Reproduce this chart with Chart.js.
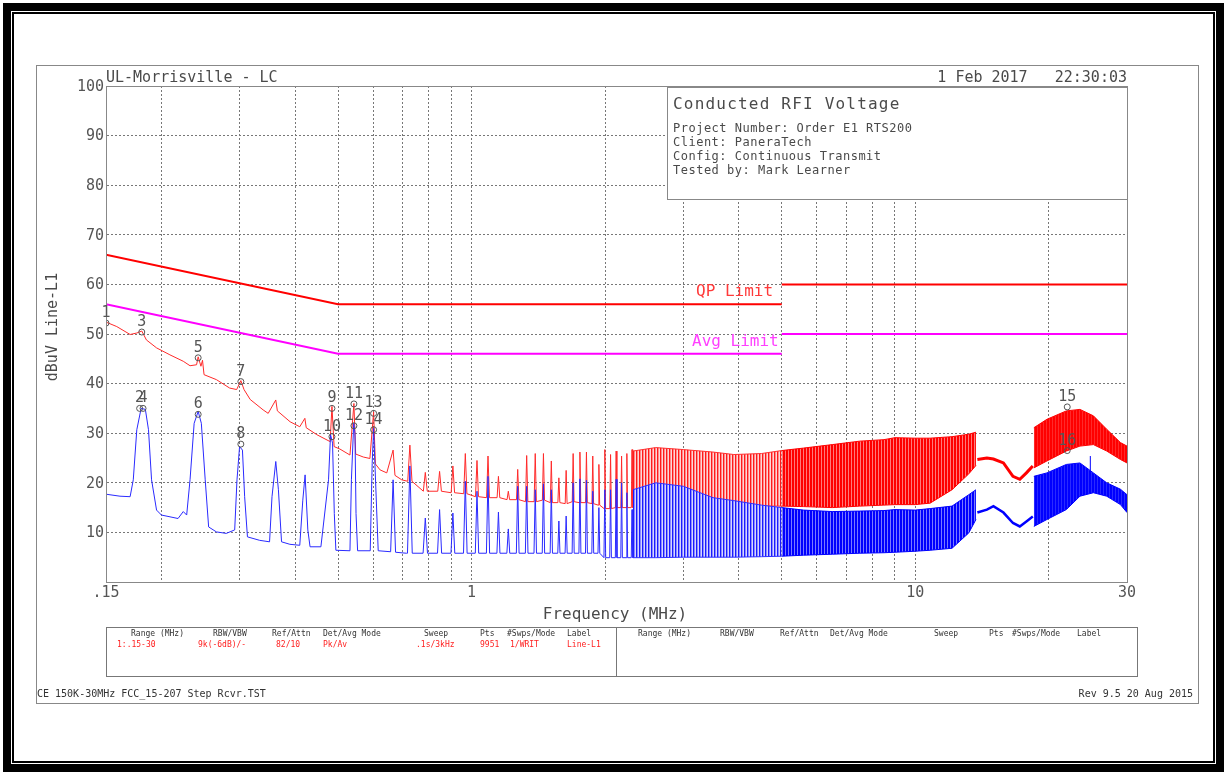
<!DOCTYPE html>
<html>
<head>
<meta charset="utf-8">
<title>Conducted RFI Voltage</title>
<script src="https://cdn.jsdelivr.net/npm/chart.js@4.4.1/dist/chart.umd.min.js"></script>
<style>
  html, body { margin: 0; padding: 0; background: #fff; }
  #page { position: relative; width: 1227px; height: 775px; overflow: hidden;
          font-family: 'DejaVu Sans Mono', monospace; color: #4a4a4a; }
  #plot { position: absolute; left: 0; top: 0; }
  .abs { position: absolute; white-space: pre; line-height: 1; }
  .box { position: absolute; box-sizing: border-box; }
</style>
</head>
<body>
<div id="page">
  <canvas id="plot" width="1227" height="775"></canvas>

  <div class="box" style="left:3px;top:3px;width:1221px;height:769px;border:8px solid #000"></div>
  <div class="box" style="left:12px;top:12px;width:1203px;height:751px;border:2px solid #000"></div>
  <div class="box" style="left:36px;top:65px;width:1163px;height:639px;border:1px solid #888"></div>

  <div class="abs" style="left:106px;top:70px;font-size:15px">UL-Morrisville - LC</div>
  <div class="abs" style="right:100px;top:70px;font-size:15px">1 Feb 2017   22:30:03</div>

  <div class="box" style="left:667px;top:87px;width:461px;height:113px;border:1px solid #888;background:#fff"></div>
  <div class="abs" style="left:673px;top:96px;font-size:16px;letter-spacing:1.2px">Conducted RFI Voltage</div>
  <div class="abs" style="left:673px;top:121px;font-size:12px;line-height:14px;letter-spacing:0.5px">Project Number: Order E1 RTS200
Client: PaneraTech
Config: Continuous Transmit
Tested by: Mark Learner</div>

  <div class="abs" style="left:52px;top:327px;font-size:15px;transform:translate(-50%,-50%) rotate(-90deg)">dBuV Line-L1</div>
  <div class="abs" style="left:615px;top:606px;font-size:16px;transform:translateX(-50%)">Frequency (MHz)</div>

  <div class="abs" style="left:696px;top:283px;font-size:16px;color:#ff3a3a">QP Limit</div>
  <div class="abs" style="left:692px;top:333px;font-size:16px;color:#ff40ff">Avg Limit</div>

  <div class="box" style="left:106px;top:627px;width:1032px;height:50px;border:1px solid #777"></div>
  <div class="box" style="left:616px;top:627px;width:1px;height:50px;background:#777"></div>
  <div id="table"></div>

  <div class="abs" style="left:37px;top:689px;font-size:10px;color:#333">CE 150K-30MHz FCC_15-207 Step Rcvr.TST</div>
  <div class="abs" style="right:34px;top:689px;font-size:10px;color:#333">Rev 9.5 20 Aug 2015</div>
</div>

<script>
// ---- axes ----
const xMin = 0.15, xMax = 30;
const xGridMHz = [0.15, 0.2, 0.3, 0.4, 0.5, 0.6, 0.7, 0.8, 0.9, 1, 2, 3, 4, 5, 6, 7, 8, 9, 10, 20, 30];
const xLabelMHz = [0.15, 1, 10, 30];
const xLabelText = ['.15', '1', '10', '30'];
const yTicks = [0, 10, 20, 30, 40, 50, 60, 70, 80, 90, 100];

// ---- limits (dBuV) ----
const qpF = [0.15, 0.5, 5], qpV = [66, 56, 56];
const qpHiF = [5, 30], qpHiV = [60, 60];
const avgF = [0.15, 0.5, 5], avgV = [56, 46, 46];
const avgHiF = [5, 30], avgHiV = [50, 50];

// ---- peak trace (red), 0.15-0.7 MHz ----
const pkLowF = [0.150, 0.1586, 0.170, 0.176, 0.1806, 0.185, 0.195, 0.209, 0.224, 0.232, 0.240, 0.242,
  0.2455, 0.2475, 0.2495, 0.266, 0.285, 0.2955, 0.302, 0.307, 0.317, 0.339, 0.348, 0.362, 0.365,
  0.390, 0.410, 0.421, 0.424, 0.448, 0.480, 0.4845, 0.490, 0.505, 0.532, 0.543, 0.548, 0.570,
  0.590, 0.6015, 0.607, 0.622, 0.644, 0.6655, 0.672, 0.696];
const pkLowV = [52.4, 51.5, 49.9, 50.2, 50.6, 48.8, 47.2, 45.8, 44.5, 43.6, 43.8, 45.4,
  43.5, 44.7, 41.8, 40.8, 39.1, 38.8, 40.6, 38.8, 36.8, 34.7, 34.0, 36.7, 34.5,
  32.3, 31.3, 33.0, 31.1, 29.7, 28.3, 35.4, 27.3, 26.8, 25.6, 36.0, 25.8, 25.2,
  24.9, 34.3, 23.8, 22.6, 22.0, 26.6, 21.5, 20.6];

// ---- average trace (blue), 0.15-0.7 MHz ----
const avLowF = [0.150, 0.1613, 0.170, 0.1728, 0.176, 0.180, 0.184, 0.187, 0.190, 0.195, 0.200, 0.218,
  0.224, 0.228, 0.232, 0.237, 0.242, 0.246, 0.251, 0.2555, 0.266, 0.280, 0.2925, 0.296, 0.300,
  0.3045, 0.308, 0.3125, 0.333, 0.3505, 0.355, 0.362, 0.367, 0.373, 0.3895, 0.410, 0.4165,
  0.4215, 0.4275, 0.4325, 0.4575, 0.476, 0.481, 0.486, 0.4905, 0.4945, 0.532, 0.536, 0.5425,
  0.546, 0.549, 0.5535, 0.591, 0.597, 0.6015, 0.6055, 0.616, 0.657, 0.6655, 0.674, 0.713];
const avLowV = [17.7, 17.3, 17.2, 20.6, 30.7, 35.0, 34.8, 30.7, 20.6, 14.5, 13.5, 12.8,
  14.2, 13.5, 20.6, 32.0, 34.4, 32.0, 20.6, 11.1, 10.1, 9.8, 10.5, 20.6, 27.3,
  26.6, 17.2, 9.1, 8.4, 8.1, 17.2, 24.3, 18.6, 8.1, 7.6, 7.4, 16.5,
  21.6, 10.5, 7.1, 7.1, 20.6, 29.7, 28.0, 13.8, 6.4, 6.3, 20.6, 32.0,
  30.0, 13.8, 6.3, 6.3, 23.9, 31.0, 23.9, 6.3, 6.1, 20.6, 6.0, 5.8];

// ---- separated harmonics, 0.72-2.3 MHz ----
const combF = [0.726, 0.7865, 0.847, 0.9075, 0.968, 1.0285, 1.089, 1.1495, 1.21, 1.2705, 1.331,
  1.3915, 1.452, 1.5125, 1.573, 1.6335, 1.694, 1.7545, 1.815, 1.8755, 1.936, 1.9965, 2.057,
  2.1175, 2.178, 2.2385, 2.299];
const pkCombTop = [27.6, 22.1, 22.3, 23.4, 25.9, 24.5, 25.4, 21.3, 18.3, 22.7, 25.5, 25.9, 25.9,
  24.4, 21.0, 22.5, 25.9, 26.2, 26.2, 25.4, 23.7, 26.7, 25.7, 26.4, 25.4, 25.9, 26.7];
const pkCombFloor = [20.3, 18.3, 18.3, 18.0, 17.8, 17.2, 17.0, 17.0, 16.6, 16.6, 16.2, 16.2, 16.5,
  16.0, 16.0, 15.8, 16.2, 16.0, 16.0, 15.8, 15.5, 14.8, 14.8, 15.0, 15.0, 15.0, 15.0];
const avCombTop = [23.4, 12.9, 14.6, 13.9, 20.3, 18.3, 21.3, 14.1, 10.7, 19.3, 19.3, 18.6, 19.8,
  18.6, 12.3, 13.3, 20.0, 20.8, 20.5, 18.3, 15.0, 18.6, 18.6, 20.7, 20.0, 18.0, 14.6];
const avCombFloor = [5.8, 5.8, 5.8, 5.8, 5.8, 5.8, 5.8, 5.8, 5.8, 5.8, 5.8, 5.8, 5.8,
  5.8, 5.8, 5.8, 5.8, 5.8, 5.8, 5.8, 5.8, 4.9, 4.9, 4.9, 4.9, 4.9, 4.9];

// ---- dense harmonic envelopes, 2.3-5 MHz and 5-13.7 MHz ----
const bandAF = [2.31, 2.6, 3.0, 3.5, 3.9, 4.5, 5.0];
const pkBandAHi = [26.4, 27.1, 26.7, 26.2, 25.7, 25.9, 26.5];
const pkBandALo = [15.0, 15.2, 15.4, 15.3, 15.4, 15.3, 15.3];
const avBandAHi = [18.6, 20.0, 19.3, 17.0, 16.4, 15.5, 15.0];
const avBandALo = [4.9, 4.9, 5.0, 5.0, 5.0, 5.1, 5.2];
const bandBF = [5.0, 5.6, 6.5, 7.5, 8.5, 9.0, 10.0, 10.8, 12.1, 13.2, 13.7];
const pkBandBHi = [26.5, 27.0, 27.7, 28.4, 28.7, 29.1, 29.0, 29.0, 29.3, 29.8, 30.2];
const pkBandBLo = [15.3, 15.2, 15.0, 15.3, 15.5, 15.6, 15.6, 15.9, 18.6, 21.8, 23.5];
const avBandBHi = [15.0, 14.5, 14.2, 14.3, 14.4, 14.6, 14.5, 14.8, 15.3, 17.6, 18.6];
const avBandBLo = [5.2, 5.4, 5.6, 5.8, 5.9, 6.0, 6.2, 6.4, 6.8, 9.9, 12.6];

// ---- quiet stretch, 13.8-18.4 MHz ----
const quietF = [13.8, 14.5, 15.0, 15.8, 16.6, 17.2, 17.8, 18.4];
const pkQuiet = [24.7, 25.0, 24.8, 24.0, 21.3, 20.7, 22.0, 23.4];
const avQuiet = [14.0, 14.6, 15.3, 14.0, 11.9, 11.2, 12.2, 13.2];

// ---- dense envelopes, 18.5-30 MHz ----
const band2F = [18.5, 19.8, 21.9, 23.5, 25.2, 27.0, 29.0, 30];
const pkBand2Hi = [31.1, 32.8, 34.5, 34.8, 33.5, 30.8, 28.1, 27.4];
const pkBand2Lo = [23.0, 24.4, 26.4, 27.4, 27.7, 26.4, 24.7, 24.0];
const avBand2Hi = [21.3, 22.0, 23.7, 24.0, 22.0, 20.0, 18.7, 17.6];
const avBand2Lo = [11.2, 12.6, 14.6, 17.3, 18.0, 17.3, 15.6, 14.0];
const avSpikeF = [24.8, 24.8], avSpikeV = [22.0, 25.4];

// ---- markers ----
const markerNo = [1, 2, 3, 4, 5, 6, 7, 8, 9, 10, 11, 12, 13, 14, 15, 16];
const markerF = [0.150, 0.1786, 0.1806, 0.1818, 0.242, 0.242, 0.302, 0.302, 0.4845, 0.4845, 0.543, 0.543, 0.6015, 0.6015, 22.0, 22.0];
const markerV = [52.2, 35.0, 50.4, 35.0, 45.2, 33.8, 40.4, 27.8, 35.0, 29.3, 35.9, 31.5, 34.0, 30.7, 35.3, 26.5];

// ---- settings table ----
const tableHead = ['Range (MHz)', 'RBW/VBW', 'Ref/Attn', 'Det/Avg Mode', 'Sweep', 'Pts', '#Swps/Mode', 'Label'];
const tableRow = ['1:.15-30', '9k(-6dB)/-', '82/10', 'Pk/Av', '.1s/3kHz', '9951', '1/WRIT', 'Line-L1'];
const headX = [131, 213, 272, 323, 424, 480, 507, 567];
const rowX = [117, 198, 276, 323, 416, 480, 510, 567];
const head2X = [638, 720, 780, 830, 934, 989, 1012, 1077];

const tbl = document.getElementById('table');
function cell(text, x, y, color) {
  const d = document.createElement('div');
  d.className = 'abs';
  d.style.cssText = 'left:' + x + 'px;top:' + y + 'px;font-size:8px;color:' + color;
  d.textContent = text;
  tbl.appendChild(d);
}
tableHead.forEach((t, i) => { cell(t, headX[i], 630, '#333'); cell(t, head2X[i], 630, '#333'); });
tableRow.forEach((t, i) => cell(t, rowX[i], 641, '#ff2020'));

// ---- helpers ----
const toPts = (fs, vs) => fs.map((f, i) => ({ x: f, y: vs[i] }));
function comb(top, floor, halfW) {
  const pts = [];
  combF.forEach((f, i) => {
    pts.push({ x: f - halfW, y: floor[i] }, { x: f, y: top[i] }, { x: f + halfW, y: floor[i] });
  });
  return pts;
}
const line = (data, color, width, order, extra) => Object.assign({
  type: 'line', data: data, borderColor: color, borderWidth: width, pointRadius: 0,
  fill: false, tension: 0, order: order
}, extra || {});

// vertical-stripe fill so the unresolved harmonic comb reads like the analyzer plot
function stripes(cols) {
  const c = document.createElement('canvas');
  c.width = cols.length; c.height = 1;
  const g = c.getContext('2d');
  cols.forEach((col, i) => { g.fillStyle = col; g.fillRect(i, 0, 1, 1); });
  return g.createPattern(c, 'repeat');
}
const redA = stripes(['#ff1a1a', '#ff8a8a', '#ffd6d6']);
const redB = stripes(['#ff0000', '#ff0000', '#ff7a7a']);
const red2 = stripes(['#ff0000', '#ff0000', '#ff2a2a']);
const blueA = stripes(['#1a1aff', '#8a8aff', '#d6d6ff']);
const blueB = stripes(['#0000ff', '#0000ff', '#7a7aff']);
const blue2 = stripes(['#0000ff', '#0000ff', '#2a2aff']);

const redTrace = toPts(pkLowF, pkLowV).concat(comb(pkCombTop, pkCombFloor, 0.008));
const blueTrace = toPts(avLowF, avLowV).concat(comb(avCombTop, avCombFloor, 0.009));

const plotFrame = {
  id: 'plotFrame',
  afterDraw(chart) {
    const { ctx, chartArea: a, scales: { x, y } } = chart;
    ctx.save();
    ctx.strokeStyle = '#888';
    ctx.lineWidth = 1;
    ctx.strokeRect(a.left + 0.5, a.top + 0.5, a.right - a.left, a.bottom - a.top);
    ctx.font = '15px "DejaVu Sans Mono"';
    ctx.fillStyle = '#555';
    ctx.textAlign = 'center';
    ctx.textBaseline = 'alphabetic';
    markerNo.forEach((n, i) => {
      ctx.fillText(String(n), x.getPixelForValue(markerF[i]), y.getPixelForValue(markerV[i]) - 6);
    });
    ctx.restore();
  }
};

const tickFont = { family: 'DejaVu Sans Mono', size: 15 };

new Chart(document.getElementById('plot'), {
  type: 'line',
  data: {
    datasets: [
      line(blueTrace, '#2a2aff', 1, 2),
      line(toPts(bandAF, avBandALo), '#3030ff', 1, 2),
      line(toPts(bandAF, avBandAHi), '#3030ff', 1, 2, { fill: '-1', backgroundColor: blueA }),
      line(toPts(bandBF, avBandBLo), '#0000ff', 1, 2),
      line(toPts(bandBF, avBandBHi), '#0000ff', 1, 2, { fill: '-1', backgroundColor: blueB }),
      line(toPts(quietF, avQuiet), '#0000ff', 2.5, 2),
      line(toPts(band2F, avBand2Lo), '#0000ff', 1, 2),
      line(toPts(band2F, avBand2Hi), '#0000ff', 1, 2, { fill: '-1', backgroundColor: blue2 }),
      line(toPts(avSpikeF, avSpikeV), '#0000ff', 1, 2),
      line(redTrace, '#ff2a2a', 1, 3),
      line(toPts(bandAF, pkBandALo), '#ff3030', 1, 3),
      line(toPts(bandAF, pkBandAHi), '#ff3030', 1, 3, { fill: '-1', backgroundColor: redA }),
      line(toPts(bandBF, pkBandBLo), '#ff0000', 1, 3),
      line(toPts(bandBF, pkBandBHi), '#ff0000', 1, 3, { fill: '-1', backgroundColor: redB }),
      line(toPts(quietF, pkQuiet), '#ff0000', 3, 3),
      line(toPts(band2F, pkBand2Lo), '#ff0000', 1, 3),
      line(toPts(band2F, pkBand2Hi), '#ff0000', 1, 3, { fill: '-1', backgroundColor: red2 }),
      line(toPts(qpF, qpV), '#ff0000', 2, 1),
      line(toPts(qpHiF, qpHiV), '#ff0000', 2, 1),
      line(toPts(avgF, avgV), '#ff00ff', 2, 1),
      line(toPts(avgHiF, avgHiV), '#ff00ff', 2, 1),
      {
        type: 'scatter', data: toPts(markerF, markerV), order: 0,
        pointRadius: 3, pointBorderWidth: 1, pointBorderColor: '#555',
        pointBackgroundColor: 'rgba(0,0,0,0)'
      }
    ]
  },
  options: {
    responsive: false,
    animation: false,
    devicePixelRatio: 1,
    events: [],
    layout: { padding: { left: 56, right: 100, top: 86, bottom: 163 } },
    plugins: { legend: { display: false }, tooltip: { enabled: false } },
    scales: {
      x: {
        type: 'logarithmic',
        min: xMin,
        max: xMax,
        z: 1,
        afterFit: (s) => { s.height = 30; },
        afterBuildTicks: (s) => { s.ticks = xGridMHz.map(v => ({ value: v })); },
        grid: { color: '#777', lineWidth: 1, drawTicks: false },
        border: { display: true, color: '#888', width: 1, dash: [2, 2] },
        ticks: {
          autoSkip: false, maxRotation: 0, padding: 2, color: '#555', font: tickFont,
          callback: (v) => { const i = xLabelMHz.indexOf(v); return i < 0 ? '' : xLabelText[i]; }
        }
      },
      y: {
        type: 'linear',
        min: 0,
        max: 100,
        z: 1,
        afterFit: (s) => { s.width = 50; },
        afterBuildTicks: (s) => { s.ticks = yTicks.map(v => ({ value: v })); },
        grid: { color: '#777', lineWidth: 1, drawTicks: false },
        border: { display: true, color: '#888', width: 1, dash: [2, 2] },
        ticks: {
          padding: 2, labelOffset: 1, color: '#555', font: tickFont,
          callback: (v) => (v === 0 ? '' : String(v))
        }
      }
    }
  },
  plugins: [plotFrame]
});
</script>
</body>
</html>
